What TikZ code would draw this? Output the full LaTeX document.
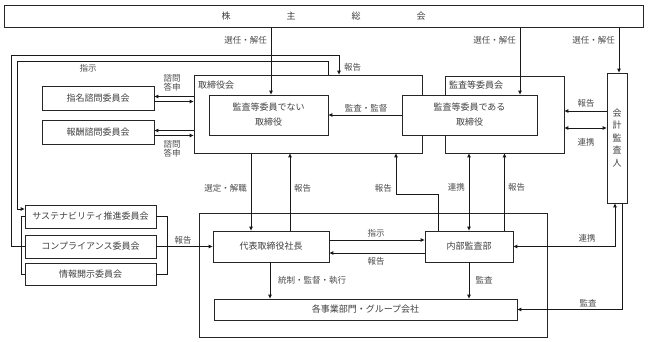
\documentclass[tikz,border=0pt]{standalone}
\usepackage{fontspec}
\setmainfont{Noto Sans CJK JP}
\usetikzlibrary{arrows.meta,calc}
\newcommand\bxn[7][]{\node[bx,#1,minimum width={#4-#2},minimum height={#5-#3}] (#6) at ({(#2+#4)/2},{(#3+#5)/2}) {#7};}
\begin{document}
\begin{tikzpicture}[x=1pt,y=-1pt,
  bx/.style={draw=black!85, line width=0.8pt, fill=white, inner sep=0pt, font=\fontsize{9}{14}\selectfont, text=black!75, align=center},
  ln/.style={draw=black!90, line width=0.9pt},
  arr/.style={ln, -{Triangle[length=4pt,width=3.5pt]}},
  darr/.style={ln, {Triangle[length=4pt,width=3.5pt]}-{Triangle[length=4pt,width=3.5pt]}},
  lbl/.style={font=\fontsize{8.5}{10}\selectfont, text=black!70, inner sep=1pt, align=center},
  ttl/.style={font=\fontsize{9}{11}\selectfont, text=black!75, inner sep=0pt},
]
\useasboundingbox (0,0) rectangle (648,342);
% boxes
\bxn{4}{5}{643}{27}{shm}{株\hspace{56pt}主\hspace{56pt}総\hspace{56pt}会}
\bxn{194}{75}{422}{153}{board}{}
\bxn{445}{76}{564}{153}{ac}{}
\node[ttl, anchor=west] (boardlbl) at (198,85) {取締役会};
\node[ttl, anchor=west] (aclbl) at (449,85) {監査等委員会};
\bxn[font=\fontsize{9}{15}\selectfont]{209}{95}{328}{135}{nd}{監査等委員でない\\取締役}
\bxn[font=\fontsize{9}{15}\selectfont]{402}{95}{537}{135}{ad}{監査等委員である\\取締役}
\bxn[font=\fontsize{9}{12.5}\selectfont]{607}{73}{627}{203}{aud}{会\\計\\監\\査\\人}
\bxn{42}{86}{154}{110}{nom}{指名諮問委員会}
\bxn{42}{120}{154}{144}{rem}{報酬諮問委員会}
\bxn{25}{205}{156}{228}{sus}{サステナビリティ推進委員会}
\bxn{25}{235}{156}{258}{com}{コンプライアンス委員会}
\bxn{25}{263}{156}{285}{dis}{情報開示委員会}
\bxn[fill=none]{199}{213}{547}{337}{exec}{}
\bxn{213}{231}{329}{262}{pres}{代表取締役社長}
\bxn{425}{231}{513}{262}{iad}{内部監査部}
\bxn{214}{299}{517}{320}{bus}{各事業部門・グループ会社}
% helper coordinates
\coordinate (xA) at (271,0);
\coordinate (xB) at (520,0);
\coordinate (xC) at (619,0);
\coordinate (xD) at (328,0);
\coordinate (xE) at (339,0);
\coordinate (xF) at (251,0);
\coordinate (xG) at (290,0);
\coordinate (xH) at (438,0);
\coordinate (xI) at (396,0);
\coordinate (xK) at (270,0);
\coordinate (yJ) at (0,111);
\coordinate (yL) at (0,128);
% shareholders
\draw[arr] (shm.south -| xA) -- (nd.north -| xA);
\draw[arr] (shm.south -| xB) -- (ad.north -| xB);
\draw[arr] (shm.south -| xC) -- (aud.north -| xC);
\node[lbl, anchor=east] (l1) at (268,40) {選任・解任};
\node[lbl, anchor=east] (l2) at (517,40) {選任・解任};
\node[lbl, anchor=east] (l3) at (616,40) {選任・解任};
% instruction loop
\draw[arr] (board.north -| xD) |- (17,61) |- ($(sus.west)+(0,-7.5)$);
\node[lbl] (l4) at (88,68) {指示};
% report loop
\draw[arr] (com.west) -- ++(-13,0) |- (339,55) -- (board.north -| xE);
\node[lbl, anchor=west] (l5) at (343,67) {報告};
% brackets
\draw[ln] (sus.west) -- ++(-3,0) |- (dis.west);
\draw[ln] (sus.east) -- ++(11,0) |- (dis.east);
\draw[arr] (com.east) -- (pres.west |- com.east);
\node[lbl] (l6) at (183,240) {報告};
% advisory committees
\draw[arr] ($(board.west |- nom.east)+(0,-1.5)$) -- ($(nom.east)+(0,-1.5)$);
\draw[arr] ($(nom.east)+(0,3.5)$) -- ($(board.west |- nom.east)+(0,3.5)$);
\draw[arr] ($(board.west |- rem.east)+(0,-1.5)$) -- ($(rem.east)+(0,-1.5)$);
\draw[arr] ($(rem.east)+(0,3.5)$) -- ($(board.west |- rem.east)+(0,3.5)$);
\node[lbl, font=\fontsize{8.5}{9.5}\selectfont] (l7) at (172,83) {諮問\\答申};
\node[lbl, font=\fontsize{8.5}{9.5}\selectfont] (l8) at (172,149) {諮問\\答申};
% audit and supervision
\draw[arr] (ad.west) -- (nd.east);
\node[lbl] (l9) at (366,108) {監査・監督};
% accounting auditor
\draw[arr] (aud.west |- yJ) -- (ac.east |- yJ);
\draw[darr] (aud.west |- yL) -- (ac.east |- yL);
\node[lbl] (l10) at (586,103) {報告};
\node[lbl] (l11) at (586,142) {連携};
% board <-> president
\draw[arr] (board.south -| xF) -- (pres.north -| xF);
\draw[arr] (pres.north -| xG) -- (board.south -| xG);
\node[lbl, anchor=east] (l12) at (248,188) {選定・解職};
\node[lbl, anchor=west] (l13) at (293,188) {報告};
% internal audit -> board
\draw[arr] (iad.north -| xH) |- (396,194) -- (board.south -| xI);
\node[lbl, anchor=east] (l14) at (393,188) {報告};
% audit committee <-> internal audit
\draw[darr] (ac.south -| iad.north) -- (iad.north);
\draw[arr] (iad.north -| ac.south) -- (ac.south);
\node[lbl, anchor=east] (l15) at (466,187) {連携};
\node[lbl, anchor=west] (l16) at (507,187) {報告};
% president <-> internal audit
\draw[arr] ($(pres.east)+(0,-6.5)$) -- ($(iad.west)+(0,-6.5)$);
\draw[arr] ($(iad.west)+(0,6.5)$) -- ($(pres.east)+(0,6.5)$);
\node[lbl] (l17) at (376,233) {指示};
\node[lbl] (l18) at (376,261) {報告};
% to business units
\draw[arr] (pres.south -| xK) -- (bus.north -| xK);
\draw[arr] (iad.south) -- (bus.north -| iad.south);
\node[lbl, anchor=west] (l19) at (277,280) {統制・監督・執行};
\node[lbl] (l20) at (484,280) {監査};
% accounting auditor <-> internal audit, audit of units
\draw[darr] (iad.east) -| ($(aud.south)+(-2,0)$);
\draw[arr] ($(aud.south)+(5,0)$) |- (bus.east);
\node[lbl] (l21) at (587,238) {連携};
\node[lbl] (l22) at (588,303) {監査};
\end{tikzpicture}
\end{document}
